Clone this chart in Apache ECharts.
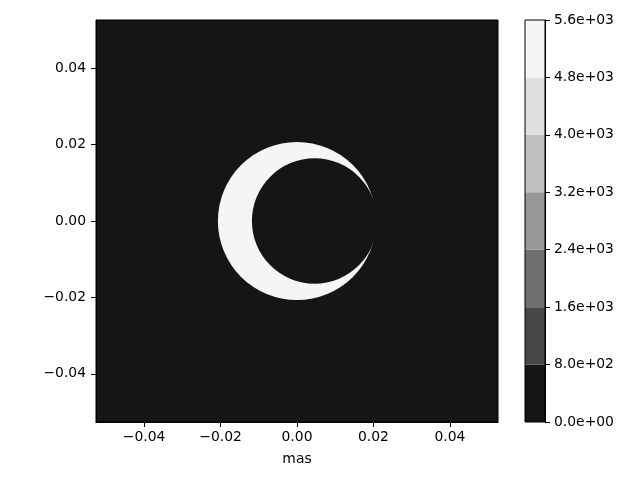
<!DOCTYPE html>
<html>
<head>
<meta charset="utf-8">
<script src="https://cdn.jsdelivr.net/npm/echarts@6/dist/echarts.min.js"></script>
<style>html,body{margin:0;padding:0;background:#fff;}#c{width:640px;height:480px;}</style>
</head>
<body>
<div id="c"></div>
<script>
// ---- data ----
const xTicks = [-0.04, -0.02, 0.00, 0.02, 0.04];
const yTicks = [-0.04, -0.02, 0.00, 0.02, 0.04];
const axisRange = [-0.0526, 0.0526];
const levels = [0, 800, 1600, 2400, 3200, 4000, 4800, 5600];
const levelColors = ['#151515', '#474747', '#6f6f6f', '#979797', '#c0c0c0', '#dfdfdf', '#f5f5f5'];
const backgroundValue = 0;
// crescent: bright disk minus offset dark disk [cx, cy, radius, value]
const outerDisk = [0.0, 0.0, 0.0207, 5400];
const innerDisk = [0.0046, 0.0, 0.0164, 0];
const xLabel = 'mas';

function colorFor(v) {
  for (let i = 0; i < levels.length - 1; i++) {
    if (v >= levels[i] && v < levels[i + 1]) return levelColors[i];
  }
  return levelColors[levelColors.length - 1];
}
function fmtTick(v) {
  const s = Math.abs(v).toFixed(2);
  return (v < -1e-9 ? '\u2212' : '') + s;
}
function fmtExp(v) {
  if (v === 0) return '0.0e+00';
  const e = Math.floor(Math.log10(Math.abs(v)));
  const m = v / Math.pow(10, e);
  const es = (e < 0 ? '-' : '+') + String(Math.abs(e)).padStart(2, '0');
  return m.toFixed(1) + 'e' + es;
}

const font = 'DejaVu Sans';
const txt = { color: '#000', fontFamily: font, fontSize: 13.9 };

const cbSeries = [];
for (let i = 0; i < levels.length - 1; i++) {
  cbSeries.push({
    type: 'bar', xAxisIndex: 1, yAxisIndex: 1, stack: 'cb',
    barWidth: '100%', barCategoryGap: 0, silent: true,
    itemStyle: { color: levelColors[i] },
    data: [levels[i + 1] - levels[i]]
  });
}

const option = {
  animation: false,
  backgroundColor: '#fff',
  grid: [
    { left: 96, top: 20, width: 402, height: 402, show: true,
      backgroundColor: colorFor(backgroundValue), borderColor: '#000', borderWidth: 1 },
    { left: 525, top: 20, width: 20, height: 402, show: true,
      borderColor: '#000', borderWidth: 1, z: 10 }
  ],
  xAxis: [
    { type: 'value', gridIndex: 0, min: axisRange[0], max: axisRange[1],
      name: xLabel, nameLocation: 'middle', nameGap: 30,
      nameTextStyle: txt,
      axisLine: { show: true, onZero: false, lineStyle: { color: '#000' } },
      axisTick: { show: true, length: 5, customValues: xTicks, lineStyle: { color: '#000' } },
      axisLabel: Object.assign({ customValues: xTicks, margin: 8, formatter: fmtTick }, txt),
      splitLine: { show: false } },
    { type: 'category', gridIndex: 1, data: ['cb'], show: false }
  ],
  yAxis: [
    { type: 'value', gridIndex: 0, min: axisRange[0], max: axisRange[1],
      axisLine: { show: true, onZero: false, lineStyle: { color: '#000' } },
      axisTick: { show: true, length: 5, customValues: yTicks, lineStyle: { color: '#000' } },
      axisLabel: Object.assign({ customValues: yTicks, margin: 10, formatter: fmtTick }, txt),
      splitLine: { show: false } },
    { type: 'value', gridIndex: 1, min: levels[0], max: levels[levels.length - 1], interval: 800,
      position: 'right',
      axisLine: { show: true, lineStyle: { color: '#000' } },
      axisTick: { show: true, length: 5, lineStyle: { color: '#000' } },
      axisLabel: Object.assign({ margin: 9, formatter: fmtExp }, txt),
      splitLine: { show: false } }
  ],
  series: [
    {
      type: 'custom', xAxisIndex: 0, yAxisIndex: 0, clip: true, silent: true,
      data: [outerDisk, innerDisk],
      renderItem: function (params, api) {
        const c = api.coord([api.value(0), api.value(1)]);
        const r = api.size([api.value(2), 0])[0];
        return {
          type: 'circle',
          shape: { cx: c[0], cy: c[1], r: r },
          style: { fill: colorFor(api.value(3)) }
        };
      }
    }
  ].concat(cbSeries)
};

const chart = echarts.init(document.getElementById('c'), null, { renderer: 'canvas' });
chart.setOption(option);
</script>
</body>
</html>
